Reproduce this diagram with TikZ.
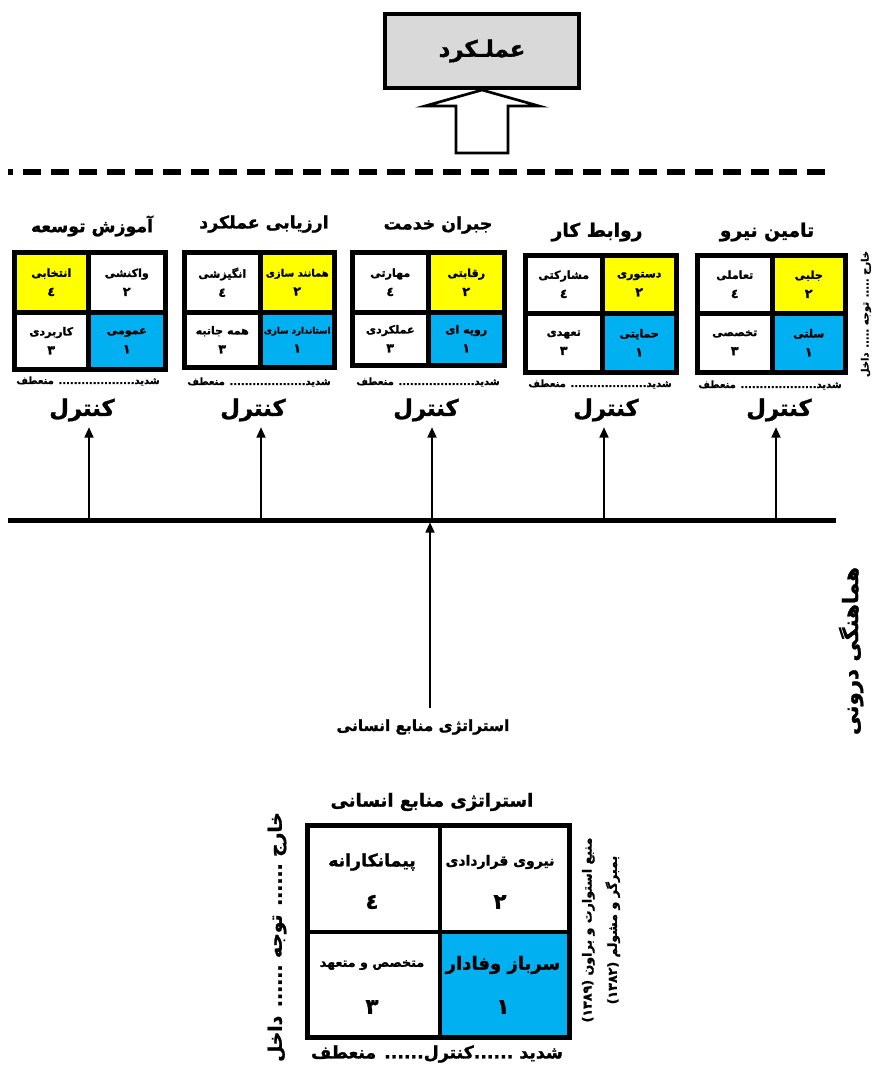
\documentclass[tikz,border=0pt]{standalone}
\usepackage{fontspec}
\usetikzlibrary{arrows.meta}
\TeXXeTstate=1
\newfontfamily\fa[Script=Arabic, BoldFeatures={FakeBold=1.3}]{DejaVu Sans}
\definecolor{cyellow}{HTML}{FFFF00}
\definecolor{cblue}{HTML}{00B0F0}
\definecolor{cgray}{HTML}{D9D9D9}
\newcommand{\rlt}[1]{\beginR #1\endR}
\newcommand{\fsz}[1]{\fa\bfseries\fontsize{#1}{#1}\selectfont}
\tikzset{
  fa/.style={font=\fa\bfseries, inner sep=0pt},
  cellbox/.style={font=\fsz{8.3}, align=center, inner sep=0pt},
  ctrlarrow/.style={line width=2.2pt, -{Triangle[length=8pt,width=6.5pt]}},
  bigcell/.style={draw, line width=3.5pt, inner sep=0pt}
}
\newcommand{\qbox}[6]{%
  \fill (#1,#2) rectangle (#3,#4);
  \pgfmathsetmacro\qLa{#1+5}\pgfmathsetmacro\qLb{#5-2.5}%
  \pgfmathsetmacro\qRa{#5+2.5}\pgfmathsetmacro\qRb{#3-5}%
  \pgfmathsetmacro\qTa{#2+5}\pgfmathsetmacro\qTb{#6-2.5}%
  \pgfmathsetmacro\qBa{#6+2.5}\pgfmathsetmacro\qBb{#4-5}%
}
\newcommand{\qcell}[8]{%
  \pgfmathsetmacro\qcx{(#3+#5)/2}%
  \pgfmathsetmacro\qcy{(#4+#6)/2}%
  \pgfmathsetmacro\qcw{(#5-#3)*0.75}%
  \pgfmathsetmacro\qch{(#6-#4)*0.75}%
  \node[cellbox,fill=#2,minimum width=\qcw pt,minimum height=\qch pt] (#1) at (\qcx,\qcy) {#7\\[6pt]{\fsz{9.5}#8}};%
}
\begin{document}
\begin{tikzpicture}[x=0.75pt,y=-0.75pt]
\useasboundingbox (0,0) rectangle (886,1065);

% top performance box
\node[draw, line width=3pt, fill=cgray, minimum width=145.5pt, minimum height=55.5pt, font=\fsz{17}] (perf) at (482,51) {\rlt{عملـکرد}};
\draw[line width=2pt, fill=white] (perf.south) -- ++(57,16) -- ++(-31,0) -- ++(0,47) -- ++(-52,0) -- ++(0,-47) -- ++(-31,0) -- cycle;

% dashed separator
\coordinate (dl) at (8,172);
\coordinate (dr) at (832,172);
\draw[line width=4.5pt, dash pattern=on 14pt off 7pt, dash phase=10pt] (dl) -- (dr);

% box 1
\node[fa, font=\fsz{13}] (t1) at (92,226) {\rlt{آموزش توسعه}};
\qbox{12}{250}{168}{372}{88}{312}
\qcell{b1tl}{cyellow}{\qLa}{\qTa}{\qLb}{\qTb}{\beginR انتخابی\endR}{\beginR ٤\endR}
\qcell{b1tr}{white}{\qRa}{\qTa}{\qRb}{\qTb}{\beginR واکنشی\endR}{\beginR ٢\endR}
\qcell{b1bl}{white}{\qLa}{\qBa}{\qLb}{\qBb}{\beginR کاربردی\endR}{\beginR ٣\endR}
\qcell{b1br}{cblue}{\qRa}{\qBa}{\qRb}{\qBb}{\beginR عمومی\endR}{\beginR ١\endR}
\node[fa, font=\fsz{7.5}] (s1) at (88,381) {\rlt{شدید.................... منعطف}};

% box 2
\node[fa, font=\fsz{13}] (t2) at (264,224) {\rlt{ارزیابی عملکرد}};
\qbox{182}{250}{337}{370}{260}{312}
\qcell{b2tl}{white}{\qLa}{\qTa}{\qLb}{\qTb}{\beginR انگیزشی\endR}{\beginR ٤\endR}
\qcell{b2tr}{cyellow}{\qRa}{\qTa}{\qRb}{\qTb}{{\fsz{7.5}\beginR همانند سازی\endR}}{\beginR ٢\endR}
\qcell{b2bl}{white}{\qLa}{\qBa}{\qLb}{\qBb}{\beginR همه جانبه\endR}{\beginR ٣\endR}
\qcell{b2br}{cblue}{\qRa}{\qBa}{\qRb}{\qBb}{{\fsz{6.5}\beginR استاندارد سازی\endR}}{\beginR ١\endR}
\node[fa, font=\fsz{7.5}] (s2) at (259,382) {\rlt{شدید.................... منعطف}};

% box 3
\node[fa, font=\fsz{13}] (t3) at (438,225) {\rlt{جبران خدمت}};
\qbox{350}{250}{507}{368}{428}{312}
\qcell{b3tl}{white}{\qLa}{\qTa}{\qLb}{\qTb}{\beginR مهارتی\endR}{\beginR ٤\endR}
\qcell{b3tr}{cyellow}{\qRa}{\qTa}{\qRb}{\qTb}{\beginR رقابتی\endR}{\beginR ٢\endR}
\qcell{b3bl}{white}{\qLa}{\qBa}{\qLb}{\qBb}{\beginR عملکردی\endR}{\beginR ٣\endR}
\qcell{b3br}{cblue}{\qRa}{\qBa}{\qRb}{\qBb}{\beginR رویه ای\endR}{\beginR ١\endR}
\node[fa, font=\fsz{7.5}] (s3) at (428,382) {\rlt{شدید.................... منعطف}};

% box 4
\node[fa, font=\fsz{14}] (t4) at (597,232) {\rlt{روابط کار}};
\qbox{523}{253}{679}{375}{602}{313}
\qcell{b4tl}{white}{\qLa}{\qTa}{\qLb}{\qTb}{\beginR مشارکتی\endR}{\beginR ٤\endR}
\qcell{b4tr}{cyellow}{\qRa}{\qTa}{\qRb}{\qTb}{\beginR دستوری\endR}{\beginR ٢\endR}
\qcell{b4bl}{white}{\qLa}{\qBa}{\qLb}{\qBb}{\beginR تعهدی\endR}{\beginR ٣\endR}
\qcell{b4br}{cblue}{\qRa}{\qBa}{\qRb}{\qBb}{\beginR حمایتی\endR}{\beginR ١\endR}
\node[fa, font=\fsz{7.5}] (s4) at (600,384) {\rlt{شدید.................... منعطف}};

% box 5
\node[fa, font=\fsz{14}] (t5) at (767,232) {\rlt{تامین نیرو}};
\qbox{695}{253}{848}{375}{772}{313}
\qcell{b5tl}{white}{\qLa}{\qTa}{\qLb}{\qTb}{\beginR تعاملی\endR}{\beginR ٤\endR}
\qcell{b5tr}{cyellow}{\qRa}{\qTa}{\qRb}{\qTb}{\beginR جلبی\endR}{\beginR ٢\endR}
\qcell{b5bl}{white}{\qLa}{\qBa}{\qLb}{\qBb}{\beginR تخصصی\endR}{\beginR ٣\endR}
\qcell{b5br}{cblue}{\qRa}{\qBa}{\qRb}{\qBb}{\beginR سلتی\endR}{\beginR ١\endR}
\node[fa, font=\fsz{7.5}] (s5) at (770,385) {\rlt{شدید.................... منعطف}};
\node[fa, font=\fsz{7.5}, rotate=90] (side5) at (866,314) {\rlt{خارج ..... توجه ..... داخل}};

% control labels
\node[fa, font=\fsz{17}] (k1) at (82,410) {\rlt{کنترل}};
\node[fa, font=\fsz{17}] (k2) at (253,410) {\rlt{کنترل}};
\node[fa, font=\fsz{17}] (k3) at (426,410) {\rlt{کنترل}};
\node[fa, font=\fsz{17}] (k4) at (606,410) {\rlt{کنترل}};
\node[fa, font=\fsz{17}] (k5) at (779,410) {\rlt{کنترل}};

% horizontal line and arrows
\coordinate (hl) at (8,520);
\coordinate (hr) at (836,520);
\draw[line width=3.75pt] (hl) -- (hr);
\foreach \i/\xx in {1/89,2/261,3/432,4/604,5/776}{
  \coordinate (a\i b) at (\xx,520);
  \coordinate (a\i t) at (\xx,427);
  \draw[ctrlarrow] (a\i b) -- (a\i t);
}
\node[fa, font=\fsz{11.5}] (strat) at (423,727) {\rlt{استراتژی منابع انسانی}};
\coordinate (sb) at (430,708);
\coordinate (st) at (430,522);
\draw[ctrlarrow] (sb) -- (st);

\node[fa, font=\fsz{16}, rotate=90] (coord) at (851,651) {\rlt{هماهنگی درونی}};

% bottom matrix
\node[fa, font=\fsz{13.5}] (mtitle) at (432,802) {\rlt{استراتژی منابع انسانی}};
\node[bigcell, minimum width=99.4pt, minimum height=79.9pt] (mtl) at (373.75,878.75) {};
\node[bigcell, minimum width=97.1pt, minimum height=79.9pt] (mtr) at (504.75,878.75) {};
\node[bigcell, minimum width=99.4pt, minimum height=79.1pt] (mbl) at (373.75,984.75) {};
\node[bigcell, fill=cblue, minimum width=97.1pt, minimum height=79.1pt] (mbr) at (504.75,984.75) {};
\node[fa, font=\fsz{13}] (wtl) at (372,862) {\rlt{پیمانکارانه}};
\node[fa, font=\fsz{16}] (ntl) at (372,902) {\rlt{٤}};
\node[fa, font=\fsz{10.5}] (wtr) at (500,862) {\rlt{نیروی قراردادی}};
\node[fa, font=\fsz{16}] (ntr) at (500,902) {\rlt{٢}};
\node[fa, font=\fsz{9.5}] (wbl) at (372,965) {\rlt{متخصص و متعهد}};
\node[fa, font=\fsz{16}] (nbl) at (372,1007) {\rlt{٣}};
\node[fa, font=\fsz{13.5}] (wbr) at (503,965) {\rlt{سرباز وفادار}};
\node[fa, font=\fsz{16}] (nbr) at (503,1007) {\rlt{١}};
\node[fa, font=\fsz{14}, rotate=90] (mleft) at (277,937) {\rlt{خارج ...... توجه ...... داخل}};
\node[fa, font=\fsz{13}] (mbottom) at (437,1054) {\rlt{شدید ......کنترل...... منعطف}};
\node[fa, font=\fsz{9.5}, rotate=90, align=center] (msrc) at (601,930) {\rlt{منبع استوارت و براون (۱۳۸۹)}\\[7pt]\rlt{بمبرگر و مشولم (۱۳۸۲)}};
\end{tikzpicture}
\end{document}
